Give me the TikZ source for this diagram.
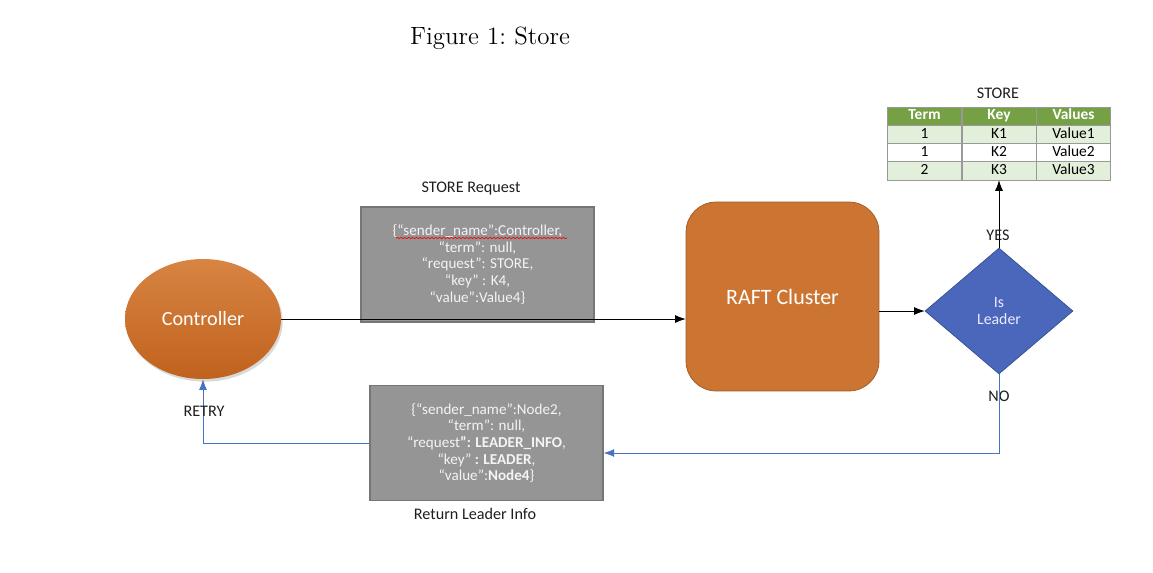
\documentclass[tikz,border=0pt]{standalone}
\usepackage{fontspec}
\newfontfamily\calib{Carlito}
\usetikzlibrary{shapes.geometric,shadows,arrows.meta,decorations.pathmorphing}
\definecolor{ctrltop}{HTML}{D88443}
\definecolor{ctrlbot}{HTML}{C0621D}
\definecolor{raftfill}{HTML}{CC7532}
\definecolor{raftedge}{HTML}{A05A28}
\definecolor{leadfill}{HTML}{4A67BC}
\definecolor{leadedge}{HTML}{34508F}
\definecolor{msgfill}{HTML}{959595}
\definecolor{msgedge}{HTML}{767676}
\definecolor{msgtext}{HTML}{F4F4F4}
\definecolor{retblue}{HTML}{4472C4}
\definecolor{hdrgreen}{HTML}{76A044}
\definecolor{rowgreen}{HTML}{E2EFDA}
\definecolor{labgray}{HTML}{1E1E1E}
\tikzset{
  basecell/.style={draw=gray!80,minimum width=1.486cm,minimum height=0.365cm,inner sep=0pt,
    text height=6pt,text depth=1.6pt,font=\calib\fontsize{8.8}{9}\selectfont},
  hdrcell/.style={basecell,fill=hdrgreen,text=white,font=\calib\bfseries\fontsize{8.8}{9}\selectfont},
  greencell/.style={basecell,fill=rowgreen},
  whitecell/.style={basecell,fill=white},
  msgbox/.style={draw=msgedge,line width=0.8pt,fill=msgfill,text=msgtext,minimum width=4.66cm,minimum height=2.3cm,inner sep=0pt},
  flowlabel/.style={text=labgray,font=\calib\fontsize{9.2}{10}\selectfont}
}
\begin{document}
\begin{tikzpicture}[x=0.02cm,y=-0.02cm,every node/.style={font=\calib\fontsize{8.6}{9.5}\selectfont,align=center}]
\useasboundingbox (0,0) rectangle (1153,572);
\node[font=\rmfamily\fontsize{14.2}{16}\selectfont] (title) at (490,38) {Figure 1:~Store};
% controller and cluster
\node[ellipse,minimum width=3.12cm,minimum height=2.4cm,top color=ctrltop,bottom color=ctrlbot,
  drop shadow={opacity=0.3,shadow xshift=1pt,shadow yshift=-1.5pt},text=white,
  font=\calib\fontsize{11.5}{13}\selectfont] (ctrl) at (203,319) {Controller};
\node[draw=raftedge,fill=raftfill,rounded corners=0.6cm,minimum width=3.86cm,minimum height=3.78cm,
  text=white,font=\calib\fontsize{12.5}{14}\selectfont] (raft) at (782.5,296.5) {RAFT Cluster};
\node[diamond,draw=leadedge,fill=leadfill,minimum width=2.96cm,minimum height=2.52cm,inner sep=0pt,
  text=blue!8,font=\calib\fontsize{9}{10.2}\selectfont] (isl) at (999,311) {Is\\Leader};
% messages
\node[msgbox] (req) at (477.5,264.5) {\{“sender\_name”:Controller,\\“term”: null,\\“request”: STORE,\\“key” : K4,\\“value”:Value4\}};
\draw[red,line width=0.4pt,decorate,decoration={snake,amplitude=0.35pt,segment length=2.2pt}] (396,238) -- (567,238);
\node[flowlabel] (reqlab) at (471,189) {STORE Request};
\node[msgbox] (resp) at (486.5,443) {\{“sender\_name”:Node2,\\“term”: null,\\“request\textbf{”: LEADER\_INFO},\\“key” \textbf{: LEADER},\\“value”:\textbf{Node4}\}};
\node[flowlabel] (resplab) at (475,514) {Return Leader Info};
% store table
\node[flowlabel] (storelab) at (998,93) {STORE};
\foreach \r/\sty/\a/\b/\c in {1/hdrcell/Term/Key/Values,2/greencell/1/K1/Value1,3/whitecell/1/K2/Value2,4/greencell/2/K3/Value3}{
  \node[\sty] (c-\r-1) at (924.5,{97.75+18.25*\r}) {\a};
  \node[\sty] (c-\r-2) at (999,{97.75+18.25*\r}) {\b};
  \node[\sty] (c-\r-3) at (1073.5,{97.75+18.25*\r}) {\c};
}
% connectors
\draw[-{Latex[length=6pt,width=4.5pt]}] (ctrl.east) -- (ctrl.east -| raft.west);
\draw[-{Latex[length=6pt,width=4.5pt]}] (raft.east |- isl.west) -- (isl.west);
\draw[-{Latex[length=6pt,width=4.5pt]}] (isl.north) -- (isl.north |- c-4-2.south);
\node[flowlabel] (yes) at (998,235) {YES};
\node[flowlabel] (no) at (999,396) {NO};
\coordinate (noturn) at (999,453);
\draw[retblue,-{Latex[length=6pt,width=4.5pt]}] (isl.south) -- (noturn) -- (noturn -| resp.east);
\draw[retblue,-{Latex[length=6pt,width=4.5pt]}] (resp.west) -- (resp.west -| ctrl.south) -- (ctrl.south);
\node[flowlabel] (retry) at (204,411) {RETRY};
\end{tikzpicture}
\end{document}
